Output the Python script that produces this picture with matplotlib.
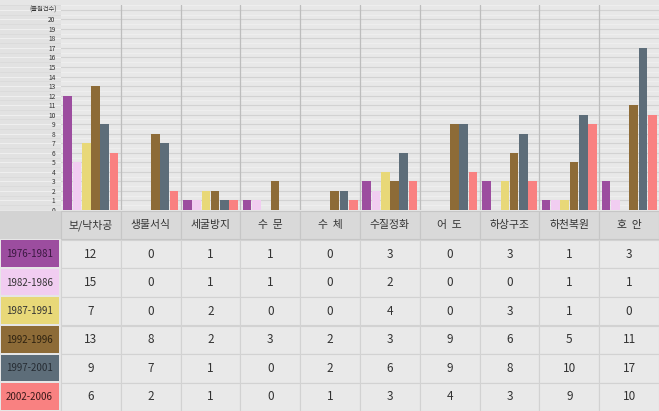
import matplotlib
matplotlib.use("Agg")
import matplotlib.pyplot as plt
from matplotlib.patches import Rectangle
import numpy as np

plt.rcParams["font.family"] = ["Noto Sans CJK KR", "DejaVu Sans"]

categories = ["보/낙차공", "생물서식", "세굴방지", "수  문", "수  체",
              "수질정화", "어  도", "하상구조", "하천복원", "호  안"]
periods = ["1976-1981", "1982-1986", "1987-1991", "1992-1996", "1997-2001", "2002-2006"]

# values as printed in the table
v_1976 = [12, 0, 1, 1, 0, 3, 0, 3, 1, 3]
v_1982 = [15, 0, 1, 1, 0, 2, 0, 0, 1, 1]
v_1987 = [7, 0, 2, 0, 0, 4, 0, 3, 1, 0]
v_1992 = [13, 8, 2, 3, 2, 3, 9, 6, 5, 11]
v_1997 = [9, 7, 1, 0, 2, 6, 9, 8, 10, 17]
v_2002 = [6, 2, 1, 0, 1, 3, 4, 3, 9, 10]
# the chart draws the first 1982-1986 bar at 5, not 15
bar_1982 = [5, 0, 1, 1, 0, 2, 0, 0, 1, 1]

table_rows = [v_1976, v_1982, v_1987, v_1992, v_1997, v_2002]
bar_rows = [v_1976, bar_1982, v_1987, v_1992, v_1997, v_2002]

colors = ["#9c4d9f", "#f1cdf1", "#e8d878", "#8d6b37", "#5d6d79", "#f98181"]
label_text_colors = ["#3a1840", "#333333", "#333333", "#2e2210", "#262c33", "#3a1a1a"]

W, H = 659, 411
fig = plt.figure(figsize=(W / 100, H / 100), dpi=100)
fig.patch.set_facecolor("#e6e6e6")

zero_px = 210
top_px = 5
ymax = 21.5

# left strip with faint lines, like the original
ax_l = fig.add_axes([0, (H - zero_px) / H, 61 / W, (zero_px - top_px) / H])
ax_l.set_xlim(0, 1)
ax_l.set_ylim(0, ymax)
ax_l.set_facecolor("#e2e2e2")
for y in range(0, 22):
    ax_l.axhline(y, color="#f2f2f2", lw=0.6)
    ax_l.axhline(y + 0.5, color="#d6d6d6", lw=0.4)
ax_l.set_xticks([])
ax_l.set_yticks([])
for s in ax_l.spines.values():
    s.set_visible(False)

# bar chart
ax = fig.add_axes([61 / W, (H - zero_px) / H, (W - 61) / W, (zero_px - top_px) / H])
ax.set_facecolor("#e8e8e8")
ax.set_xlim(-0.5, len(categories) - 0.5)
ax.set_ylim(0, ymax)
for y in range(0, 22):
    ax.axhline(y, color="#d2d2d2", lw=0.8, zorder=1)
    ax.axhline(y + 0.5, color="#f0f0f0", lw=0.6, zorder=1)
for i in range(len(categories) - 1):
    ax.axvline(i + 0.5, color="#bdbdbd", lw=0.9, zorder=1)

x = np.arange(len(categories))
bw = 0.155
for k, (vals, c) in enumerate(zip(bar_rows, colors)):
    ax.bar(x + (k - 2.5) * bw, vals, width=bw * 0.93, color=c, zorder=3)

ax.set_xticks([])
ax.set_yticks(range(0, 21))
ax.tick_params(axis="y", length=0, labelsize=4.8, pad=4, labelcolor="#333333")
for s in ax.spines.values():
    s.set_visible(False)
ax.annotate("(출원건수)", xy=(0, 21), xycoords=ax.get_yaxis_transform(),
            xytext=(-3, 0), textcoords="offset points",
            ha="right", va="center", fontsize=4.5, color="#333333")

# data table, drawn in pixel coordinates
ax_t = fig.add_axes([0, 0, 1, (H - 200) / H])
ax_t.set_xlim(0, W)
ax_t.set_ylim(H, 200)
ax_t.axis("off")

col_x0 = 61
col_w = (W - col_x0) / len(categories)
head_top, head_h = 211, 28
row_top, row_h = 240, 28.5

ax_t.add_patch(Rectangle((0, head_top), col_x0, head_h, facecolor="#d3d3d3", edgecolor="none"))
for j, cat in enumerate(categories):
    x0 = col_x0 + j * col_w
    ax_t.add_patch(Rectangle((x0, head_top), col_w, head_h, facecolor="#d9d9d9",
                             edgecolor="#c6c6c6", lw=0.8))
    ax_t.text(x0 + col_w / 2, head_top + head_h / 2, cat, ha="center", va="center",
              fontsize=7.8, color="#333333")

for r, (period, vals) in enumerate(zip(periods, table_rows)):
    y0 = row_top + r * row_h
    ax_t.add_patch(Rectangle((1, y0 + 0.5), col_x0 - 3, row_h - 2, facecolor=colors[r],
                             edgecolor="none"))
    ax_t.text(col_x0 / 2 - 1, y0 + row_h / 2, period, ha="center", va="center",
              fontsize=7.0, color=label_text_colors[r])
    for j, v in enumerate(vals):
        x0 = col_x0 + j * col_w
        ax_t.add_patch(Rectangle((x0, y0), col_w, row_h, facecolor="#e9e9e9",
                                 edgecolor="#d2d2d2", lw=0.8))
        ax_t.text(x0 + col_w / 2, y0 + row_h / 2, str(v), ha="center", va="center",
                  fontsize=8.5, color="#333333")

fig.savefig("out.png", dpi=100, facecolor=fig.get_facecolor())
